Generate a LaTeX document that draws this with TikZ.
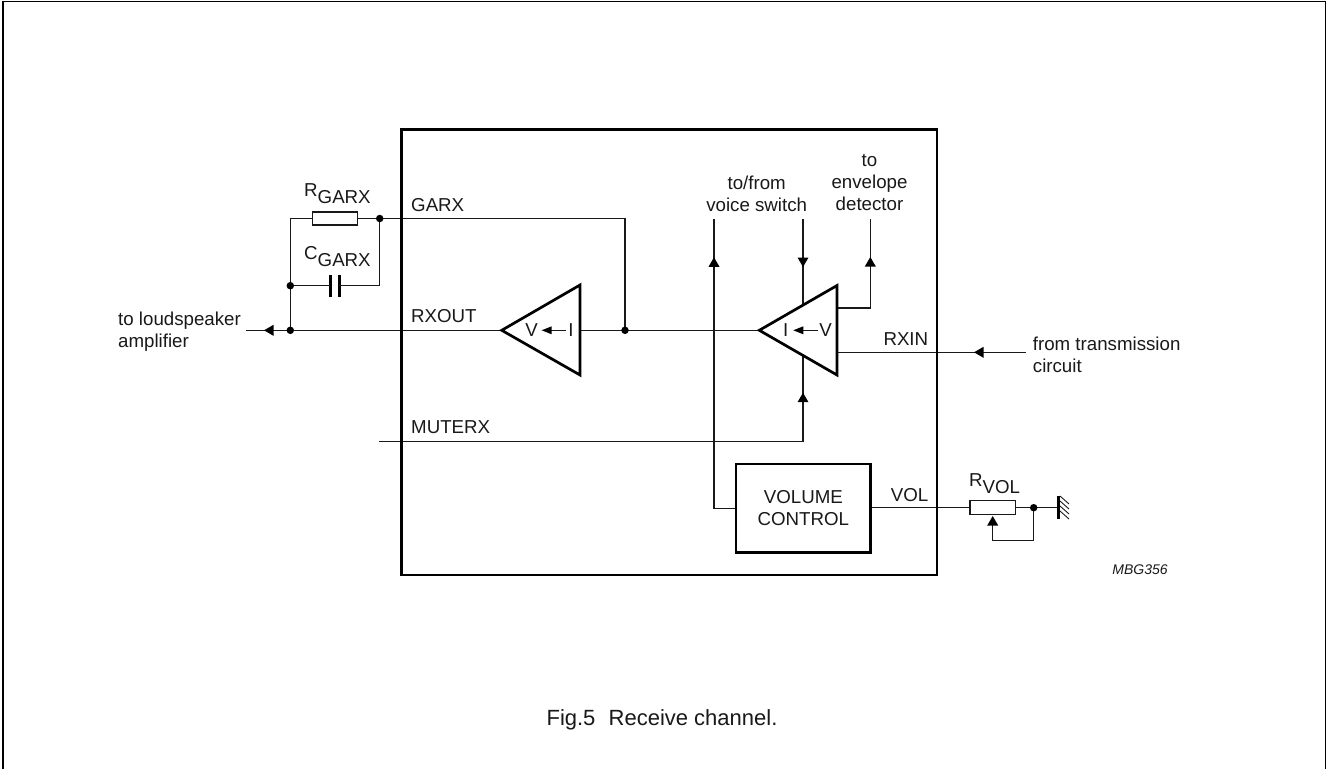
\documentclass[tikz,border=0pt]{standalone}
\usepackage{fontspec}
\setmainfont{Liberation Sans}
\definecolor{ink}{gray}{0.1}
\tikzset{
  wire/.style={draw=ink,line width=1.5pt,line join=miter},
  heavy/.style={draw=black,line width=2.8pt},
  amp/.style={draw=black,line width=2.7pt,line join=miter,fill=white},
  part/.style={draw=ink,line width=1.4pt,fill=white,inner sep=0pt},
  dotmark/.style={circle,fill=black,inner sep=0pt,minimum size=7.5pt},
  plate/.style={fill=black,inner sep=0pt,minimum width=3.4pt,minimum height=21.7pt},
  lab/.style={inner sep=0pt,font=\fontsize{18.7}{21.9}\selectfont,text=ink},
}
\newcommand{\tipup}[2]{\fill[black] (#1,#2) -- (#1-5.5,#2+9.5) -- (#1+5.5,#2+9.5) -- cycle;}
\newcommand{\tipdown}[2]{\fill[black] (#1,#2) -- (#1-5.5,#2-9.5) -- (#1+5.5,#2-9.5) -- cycle;}
\newcommand{\tipleft}[2]{\fill[black] (#1,#2) -- (#1+9.5,#2-5.5) -- (#1+9.5,#2+5.5) -- cycle;}
\newcommand{\tipsmall}[2]{\fill[black] (#1,#2) -- (#1+10,#2-4) -- (#1+10,#2+4) -- cycle;}
\begin{document}
\begin{tikzpicture}[x=1pt,y=-1pt]
\useasboundingbox (0,0) rectangle (1327,769);
\fill[white] (0,0) rectangle (1327,769);
\draw[black,line width=1.6pt] (3,769) -- (3,1.5) -- (1325.5,1.5) -- (1325.5,769);
% junctions and free ends
\coordinate (gnode) at (379.7,218.5);
\coordinate (cnode) at (290.3,285.7);
\coordinate (onode) at (290.3,330.3);
\coordinate (jnode) at (625,330.3);
\coordinate (vnode) at (1033.7,507.7);
\coordinate (spk) at (246,330.3);
\coordinate (gbend) at (625,218.5);
\coordinate (tbend) at (290.3,218.5);
\coordinate (a1tip) at (501.7,330.3);
\coordinate (a1top) at (580,285);
\coordinate (a1bot) at (580,375);
\coordinate (a1out) at (580,330.3);
\coordinate (a2tip) at (759.3,330.3);
\coordinate (a2top) at (837,285.5);
\coordinate (a2bot) at (837,375);
\coordinate (sw1) at (714,219);
\coordinate (sw2) at (803,219);
\coordinate (env) at (870.3,219);
\coordinate (a2env) at (837,308);
\coordinate (a2in) at (837,352.3);
\coordinate (rxin) at (1026,352.3);
\coordinate (mute) at (379,441.7);
\coordinate (gnd) at (1057.7,507.7);
\coordinate (wiper) at (992.7,520);
\coordinate (wcorner) at (1033.7,540.7);
\coordinate (sw2end) at (803,310);
\coordinate (muteend) at (803,355);
% parts
\node[part,minimum width=44.6pt,minimum height=13.3pt] (rg) at (335,218.5) {};
\node[part,minimum width=45.3pt,minimum height=13.6pt] (rv) at (992.7,507.5) {};
\node[plate] (p1) at (330.2,285.7) {};
\node[plate] (p2) at (339.2,285.7) {};
\node[heavy,fill=white,minimum width=134.7pt,minimum height=88.7pt,inner sep=0pt,align=center,lab] (vc) at (803.4,508.3) {VOLUME\\[0.4pt]CONTROL};
% wires
\draw[wire] (spk) -- (a1tip);
\draw[wire] (onode) -- (tbend) -- (rg.west);
\draw[wire] (rg.east) -- (gbend) -- (jnode);
\draw[wire] (cnode) -- (p1.center);
\draw[wire] (p2.center) -| (gnode);
\draw[wire] (a1out) -- (a2tip);
\draw[wire] (sw1) |- (vc.west);
\draw[wire] (sw2) -- (sw2end);
\draw[wire] (env) |- (a2env);
\draw[wire] (a2in) -- (rxin);
\draw[wire] (mute) -| (muteend);
\draw[wire] (vc.east |- gnd) -- (rv.west |- gnd);
\draw[wire] (rv.east |- gnd) -- (gnd);
\draw[wire] (wiper) |- (wcorner) -- (vnode);
% main box
\node[heavy,fill=none,inner sep=0pt,minimum width=535.5pt,minimum height=445.5pt] (main) at (669.25,352.25) {};
% amplifiers
\draw[amp] (a1tip) -- (a1top) -- (a1bot) -- cycle;
\draw[amp] (a2tip) -- (a2top) -- (a2bot) -- cycle;
\node[lab] (v1) at (531.7,330.5) {V};
\node[lab] (i1) at (571,330.5) {I};
\draw[wire,line width=1.1pt] (566,330.3) -- (548,330.3);
\tipsmall{541.7}{330.3}
\node[lab] (i2) at (785.7,330.5) {I};
\node[lab] (v2) at (825.7,330.5) {V};
\draw[wire,line width=1.1pt] (817.7,330.3) -- (799,330.3);
\tipsmall{793.3}{330.3}
% dots
\node[dotmark] (d1) at (gnode) {};
\node[dotmark] (d2) at (cnode) {};
\node[dotmark] (d3) at (onode) {};
\node[dotmark] (d4) at (jnode) {};
\node[dotmark] (d5) at (vnode) {};
% arrowheads
\tipleft{264}{330.3}
\tipup{714}{257.3}
\tipdown{803}{267}
\tipup{870.3}{257}
\tipup{803}{392.7}
\tipleft{974}{352.3}
\tipup{992.7}{516}
% ground
\fill[black] (1056.5,496) rectangle (1060,519);
\foreach \y in {496,501,506,511}
  \draw[ink,line width=0.9pt] (1060,\y) -- (1069,\y+8);
% labels
\node[lab,anchor=west,align=left] (l1) at (118,331.5) {to loudspeaker\\amplifier};
\node[lab,anchor=west,align=left] (l2) at (1032.7,354.8) {from transmission\\circuit};
\node[lab,anchor=west] (t1) at (411,205) {GARX};
\node[lab,anchor=west] (t2) at (411,316) {RXOUT};
\node[lab,anchor=west] (t3) at (411,427.5) {MUTERX};
\node[lab,anchor=west] (t4) at (883.3,339) {RXIN};
\node[lab,anchor=west] (t5) at (890.7,495) {VOL};
\node[lab,align=center] (t6) at (756.7,194) {to/from\\voice switch};
\node[lab,align=center] (t7) at (869.5,182.5) {to\\envelope\\detector};
\node[lab,anchor=base west] (t8) at (304,203.5) {\raisebox{7pt}{R}GARX};
\node[lab,anchor=base west] (t9) at (304,266.5) {\raisebox{7pt}{C}GARX};
\node[lab,anchor=base west] (t10) at (969,493.5) {\raisebox{7pt}{R}VOL};
\node[inner sep=0pt,font=\fontsize{14}{16}\selectfont\itshape,text=ink] (t11) at (1140,570) {MBG356};
\node[inner sep=0pt,font=\fontsize{22}{26}\selectfont,text=ink] (t12) at (662,720) {Fig.5\hspace{0.6em}Receive channel.};
\end{tikzpicture}
\end{document}
